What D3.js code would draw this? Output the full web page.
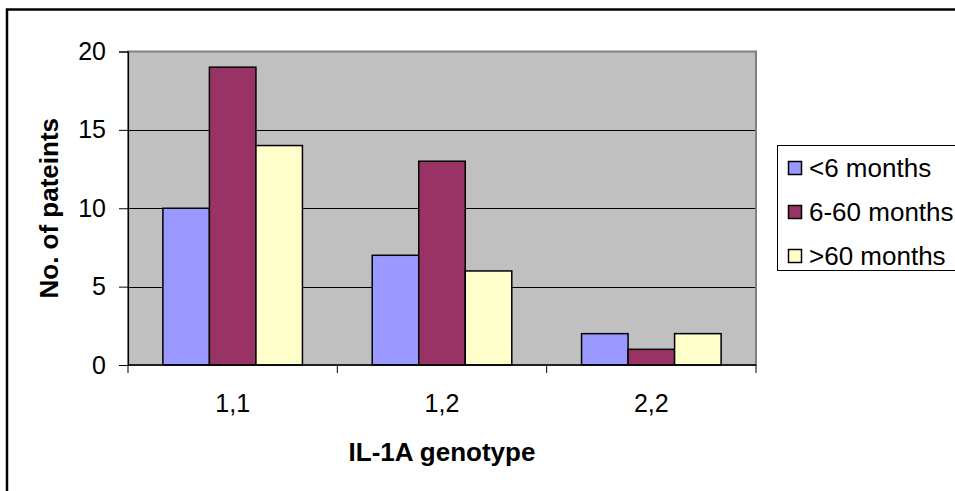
<!DOCTYPE html>
<html>
<head>
<meta charset="utf-8">
<script src="https://cdn.jsdelivr.net/npm/d3@7"></script>
<style>
  html, body { margin: 0; padding: 0; background: #fff; }
  svg { display: block; font-family: "Liberation Sans", Arial, sans-serif; }
</style>
</head>
<body>
<svg id="chart" width="955" height="491"></svg>
<script>
// Patients by IL-1A genotype and duration group
const categories = ["1,1", "1,2", "2,2"];
const seriesNames = ["<6 months", "6-60 months", ">60 months"];
const lessThan6 = [10, 7, 2];
const from6to60 = [19, 13, 1];
const moreThan60 = [14, 6, 2];
const yTicks = [0, 5, 10, 15, 20];
const seriesColors = ["#9999FF", "#993366", "#FFFFCC"];

const seriesValues = [lessThan6, from6to60, moreThan60];

const svg = d3.select("#chart");

// outer frame
svg.append("rect")
  .attr("x", 7).attr("y", 9.5)
  .attr("width", 960).attr("height", 500)
  .attr("fill", "#fff")
  .attr("stroke", "#000").attr("stroke-width", 2.5);

const plot = { left: 128, right: 756, top: 51.5, bottom: 365 };

const y = d3.scaleLinear().domain([0, 20]).range([plot.bottom, plot.top]);
const x = d3.scaleBand().domain(categories)
  .range([plot.left, plot.right])
  .paddingInner(1 / 3).paddingOuter(1 / 6);
const xs = d3.scaleBand().domain(d3.range(seriesNames.length))
  .range([0, x.bandwidth()]);

// plot background
svg.append("rect")
  .attr("x", plot.left).attr("y", plot.top)
  .attr("width", plot.right - plot.left).attr("height", plot.bottom - plot.top)
  .attr("fill", "#C0C0C0");

// gridlines
svg.append("g")
  .selectAll("line")
  .data(yTicks.filter(t => t > 0 && t < 20))
  .join("line")
  .attr("x1", plot.left).attr("x2", plot.right)
  .attr("y1", d => Math.round(y(d)) + 0.5).attr("y2", d => Math.round(y(d)) + 0.5)
  .attr("stroke", "#000").attr("stroke-width", 1);

// plot border
svg.append("rect")
  .attr("x", plot.left).attr("y", plot.top)
  .attr("width", plot.right - plot.left).attr("height", plot.bottom - plot.top)
  .attr("fill", "none")
  .attr("stroke", "#808080").attr("stroke-width", 2);

// bars
const groups = svg.append("g")
  .selectAll("g")
  .data(categories)
  .join("g")
  .attr("transform", d => `translate(${x(d)},0)`);

groups.selectAll("rect")
  .data((c, ci) => seriesValues.map((vals, si) => ({ si, v: vals[ci] })))
  .join("rect")
  .attr("x", d => xs(d.si))
  .attr("y", d => y(d.v))
  .attr("width", xs.bandwidth())
  .attr("height", d => y(0) - y(d.v))
  .attr("fill", d => seriesColors[d.si])
  .attr("stroke", "#000").attr("stroke-width", 1.5);

// y axis
const yAxis = svg.append("g")
  .attr("transform", `translate(${plot.left},0)`)
  .call(d3.axisLeft(y).tickValues(yTicks).tickSize(9).tickPadding(13).tickFormat(d3.format("d")));
yAxis.select(".domain").attr("stroke", "#000").attr("stroke-width", 1.2);
yAxis.selectAll(".tick line").attr("stroke", "#000");
yAxis.selectAll(".tick text")
  .attr("font-size", 25).attr("fill", "#000")
  .attr("font-family", "Liberation Sans, Arial, sans-serif");

// x axis: ticks at category boundaries
const xAxisG = svg.append("g").attr("transform", `translate(0,${plot.bottom})`);
xAxisG.append("line")
  .attr("x1", plot.left).attr("x2", plot.right)
  .attr("stroke", "#000").attr("stroke-width", 1.5);
const step = x.step();
const boundaries = d3.range(categories.length + 1).map(i => plot.left + i * step);
xAxisG.selectAll("line.tick")
  .data(boundaries)
  .join("line")
  .attr("class", "tick")
  .attr("x1", d => d).attr("x2", d => d)
  .attr("y1", 0).attr("y2", 8)
  .attr("stroke", "#000");
xAxisG.selectAll("text")
  .data(categories)
  .join("text")
  .attr("x", d => x(d) + x.bandwidth() / 2)
  .attr("y", 47)
  .attr("text-anchor", "middle")
  .attr("font-size", 25)
  .text(d => d);

// axis titles
svg.append("text")
  .attr("x", (plot.left + plot.right) / 2)
  .attr("y", 461)
  .attr("text-anchor", "middle")
  .attr("font-size", 26).attr("font-weight", "bold")
  .text("IL-1A genotype");

svg.append("text")
  .attr("transform", `translate(58,${(plot.top + plot.bottom) / 2}) rotate(-90)`)
  .attr("text-anchor", "middle")
  .attr("font-size", 26).attr("font-weight", "bold")
  .text("No. of pateints");

// legend
const legend = svg.append("g");
legend.append("rect")
  .attr("x", 777.5).attr("y", 145.5)
  .attr("width", 190).attr("height", 125)
  .attr("fill", "#fff")
  .attr("stroke", "#000").attr("stroke-width", 1);
const rows = legend.selectAll("g.row")
  .data(seriesNames)
  .join("g")
  .attr("class", "row")
  .attr("transform", (d, i) => `translate(788,${168 + i * 44})`);
rows.append("rect")
  .attr("x", 0.5).attr("y", -6.5)
  .attr("width", 13).attr("height", 13)
  .attr("fill", (d, i) => seriesColors[i])
  .attr("stroke", "#000").attr("stroke-width", 1.5);
rows.append("text")
  .attr("x", 21).attr("y", 9)
  .attr("font-size", 26)
  .text(d => d);
</script>
</body>
</html>
